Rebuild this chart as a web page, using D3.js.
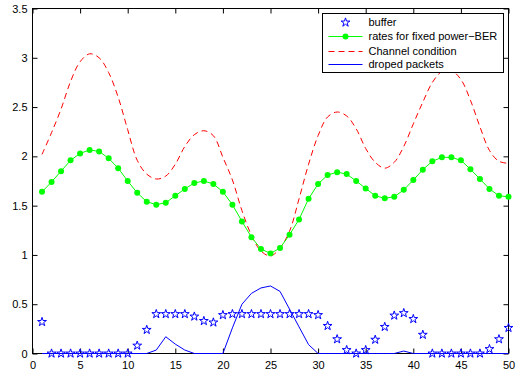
<!DOCTYPE html>
<html>
<head>
<meta charset="utf-8">
<script src="https://cdn.jsdelivr.net/npm/d3@7"></script>
<style>
    body { margin: 0; background: #fff; }
    text { font-family: "Liberation Sans", Arial, sans-serif; font-size: 11px; fill: #000; }
</style>
</head>
<body>
<div id="chart"></div>
<script>
// values, one per step 1..50
var steps = [1, 2, 3, 4, 5, 6, 7, 8, 9, 10, 11, 12, 13, 14, 15, 16, 17, 18, 19, 20,
    21, 22, 23, 24, 25, 26, 27, 28, 29, 30, 31, 32, 33, 34, 35, 36, 37, 38, 39, 40,
    41, 42, 43, 44, 45, 46, 47, 48, 49, 50];

var buffer = [0.32, 0, 0, 0, 0, 0, 0, 0, 0, 0,
    0.08, 0.24, 0.40, 0.40, 0.40, 0.40, 0.375, 0.33, 0.315, 0.39,
    0.40, 0.40, 0.40, 0.40, 0.40, 0.40, 0.40, 0.40, 0.40, 0.39,
    0.28, 0.145, 0.035, 0, 0.035, 0.14, 0.27, 0.385, 0.41, 0.35,
    0.19, 0, 0, 0, 0, 0, 0, 0.045, 0.145, 0.26];

var rates = [1.64, 1.74, 1.85, 1.96, 2.03, 2.065, 2.05, 1.98, 1.88, 1.75,
    1.63, 1.54, 1.51, 1.53, 1.60, 1.67, 1.73, 1.75, 1.72, 1.64,
    1.51, 1.34, 1.18, 1.06, 1.015, 1.07, 1.205, 1.36, 1.57, 1.72,
    1.81, 1.84, 1.82, 1.75, 1.675, 1.60, 1.575, 1.59, 1.66, 1.76,
    1.865, 1.95, 1.99, 1.99, 1.96, 1.87, 1.77, 1.67, 1.60, 1.59];

var channel = [2.02, 2.24, 2.48, 2.76, 2.96, 3.04, 3.00, 2.85, 2.60, 2.27,
    1.96, 1.82, 1.77, 1.80, 1.92, 2.10, 2.22, 2.26, 2.21, 1.99,
    1.76, 1.45, 1.20, 1.04, 0.99, 1.07, 1.24, 1.57, 1.92, 2.21,
    2.40, 2.45, 2.41, 2.28, 2.08, 1.94, 1.88, 1.94, 2.10, 2.33,
    2.55, 2.75, 2.86, 2.87, 2.78, 2.57, 2.30, 2.06, 1.95, 1.93];

var dropped = [0, 0, 0, 0, 0, 0, 0, 0, 0, 0,
    0, 0, 0.035, 0.17, 0.095, 0.035, 0, 0, 0, 0,
    0.26, 0.50, 0.61, 0.665, 0.685, 0.63, 0.45, 0.27, 0.09, 0,
    0, 0, 0, 0, 0, 0, 0, 0, 0.025, 0,
    0, 0, 0, 0, 0, 0, 0, 0, 0, 0];

var xTicks = [0, 5, 10, 15, 20, 25, 30, 35, 40, 45, 50];
var yTicks = [0, 0.5, 1, 1.5, 2, 2.5, 3, 3.5];

var legendNames = ['buffer', 'rates for fixed power\u2212BER', 'Channel condition', 'droped packets'];

var sWidth = 521;
var sHeight = 375;

var marg = {
    top: 8,
    bottom: 22,
    left: 32,
    right: 13,
}

var width = sWidth - marg.left - marg.right;
var height = sHeight - marg.top - marg.bottom;

var svg = d3
    .select('#chart')
    .append('svg')
    .attr('width', sWidth)
    .attr('height', sHeight);

var chartGroup = svg.append('g')
    .attr('transform', `translate(${marg.left + 0.5}, ${marg.top + 0.5})`);

var xLinearScale = d3.scaleLinear().domain([0, 50]).range([0, width]);
var yLinearScale = d3.scaleLinear().domain([0, 3.5]).range([height, 0]);

// inward ticks on all four sides, like matlab
var bottomAxis = d3.axisBottom(xLinearScale).tickValues(xTicks).tickSize(-5).tickSizeOuter(0).tickPadding(8);
var leftAxis = d3.axisLeft(yLinearScale).tickValues(yTicks).tickSize(-5).tickSizeOuter(0).tickPadding(5)
    .tickFormat(d3.format('~g'));
var topAxis = d3.axisTop(xLinearScale).tickValues(xTicks).tickSize(-5).tickSizeOuter(0).tickFormat('');
var rightAxis = d3.axisRight(yLinearScale).tickValues(yTicks).tickSize(-5).tickSizeOuter(0).tickFormat('');

chartGroup.append('g')
    .attr('transform', `translate(0, ${height})`)
    .call(bottomAxis);
chartGroup.append('g').call(leftAxis);
chartGroup.append('g').call(topAxis);
chartGroup.append('g')
    .attr('transform', `translate(${width}, 0)`)
    .call(rightAxis);

chartGroup.selectAll('.domain').remove();
chartGroup.selectAll('.tick line').attr('stroke', '#000');
chartGroup.selectAll('.tick text').style('font-family', '"Liberation Sans", Arial, sans-serif').style('font-size', '11px');

chartGroup.append('rect')
    .attr('width', width)
    .attr('height', height)
    .attr('fill', 'none')
    .attr('stroke', '#000');

var plotArea = chartGroup.append('g');

// channel condition
var redLine = d3.line()
    .x((d, i) => xLinearScale(steps[i]))
    .y(d => yLinearScale(d))
    .curve(d3.curveCatmullRom);

plotArea.append('path')
    .datum(channel)
    .attr('d', redLine)
    .attr('fill', 'none')
    .attr('stroke', '#ff0000')
    .attr('stroke-dasharray', '6,4');

// rates
var straightLine = d3.line()
    .x((d, i) => xLinearScale(steps[i]))
    .y(d => yLinearScale(d));

plotArea.append('path')
    .datum(rates)
    .attr('d', straightLine)
    .attr('fill', 'none')
    .attr('stroke', '#00ff00');

plotArea.selectAll('circle.rate')
    .data(rates)
    .enter()
    .append('circle')
    .classed('rate', true)
    .attr('cx', (d, i) => xLinearScale(steps[i]))
    .attr('cy', d => yLinearScale(d))
    .attr('r', 3)
    .attr('fill', '#00ff00');

// dropped packets
plotArea.append('path')
    .datum(dropped)
    .attr('d', straightLine)
    .attr('fill', 'none')
    .attr('stroke', '#0000ff');

// buffer stars
var star = d3.symbol().type(d3.symbolStar).size(24);

plotArea.selectAll('path.buf')
    .data(buffer)
    .enter()
    .append('path')
    .classed('buf', true)
    .attr('d', star)
    .attr('transform', (d, i) => `translate(${xLinearScale(steps[i])}, ${yLinearScale(d)})`)
    .attr('fill', 'none')
    .attr('stroke', '#0000ff')
    .attr('stroke-width', 1);

// legend
var legend = svg.append('g')
    .attr('transform', 'translate(322.5, 13.5)');

legend.append('rect')
    .attr('width', 181)
    .attr('height', 59)
    .attr('fill', '#fff')
    .attr('stroke', '#000');

var rowY = [9, 23, 38, 51];

legendNames.forEach(function(name, i) {
    var row = legend.append('g').attr('transform', `translate(0, ${rowY[i]})`);
    if (i === 0) {
        row.append('path')
            .attr('d', star)
            .attr('transform', 'translate(23, 0)')
            .attr('fill', 'none')
            .attr('stroke', '#0000ff');
    }
    else if (i === 1) {
        row.append('line').attr('x1', 6).attr('x2', 40).attr('stroke', '#00ff00');
        row.append('circle').attr('cx', 23).attr('r', 3).attr('fill', '#00ff00');
    }
    else if (i === 2) {
        row.append('line').attr('x1', 6).attr('x2', 40).attr('stroke', '#ff0000')
            .attr('stroke-dasharray', '6,4');
    }
    else {
        row.append('line').attr('x1', 6).attr('x2', 40).attr('stroke', '#0000ff');
    }
    row.append('text')
        .attr('x', 46)
        .attr('dy', '0.35em')
        .text(name);
});
</script>
</body>
</html>
